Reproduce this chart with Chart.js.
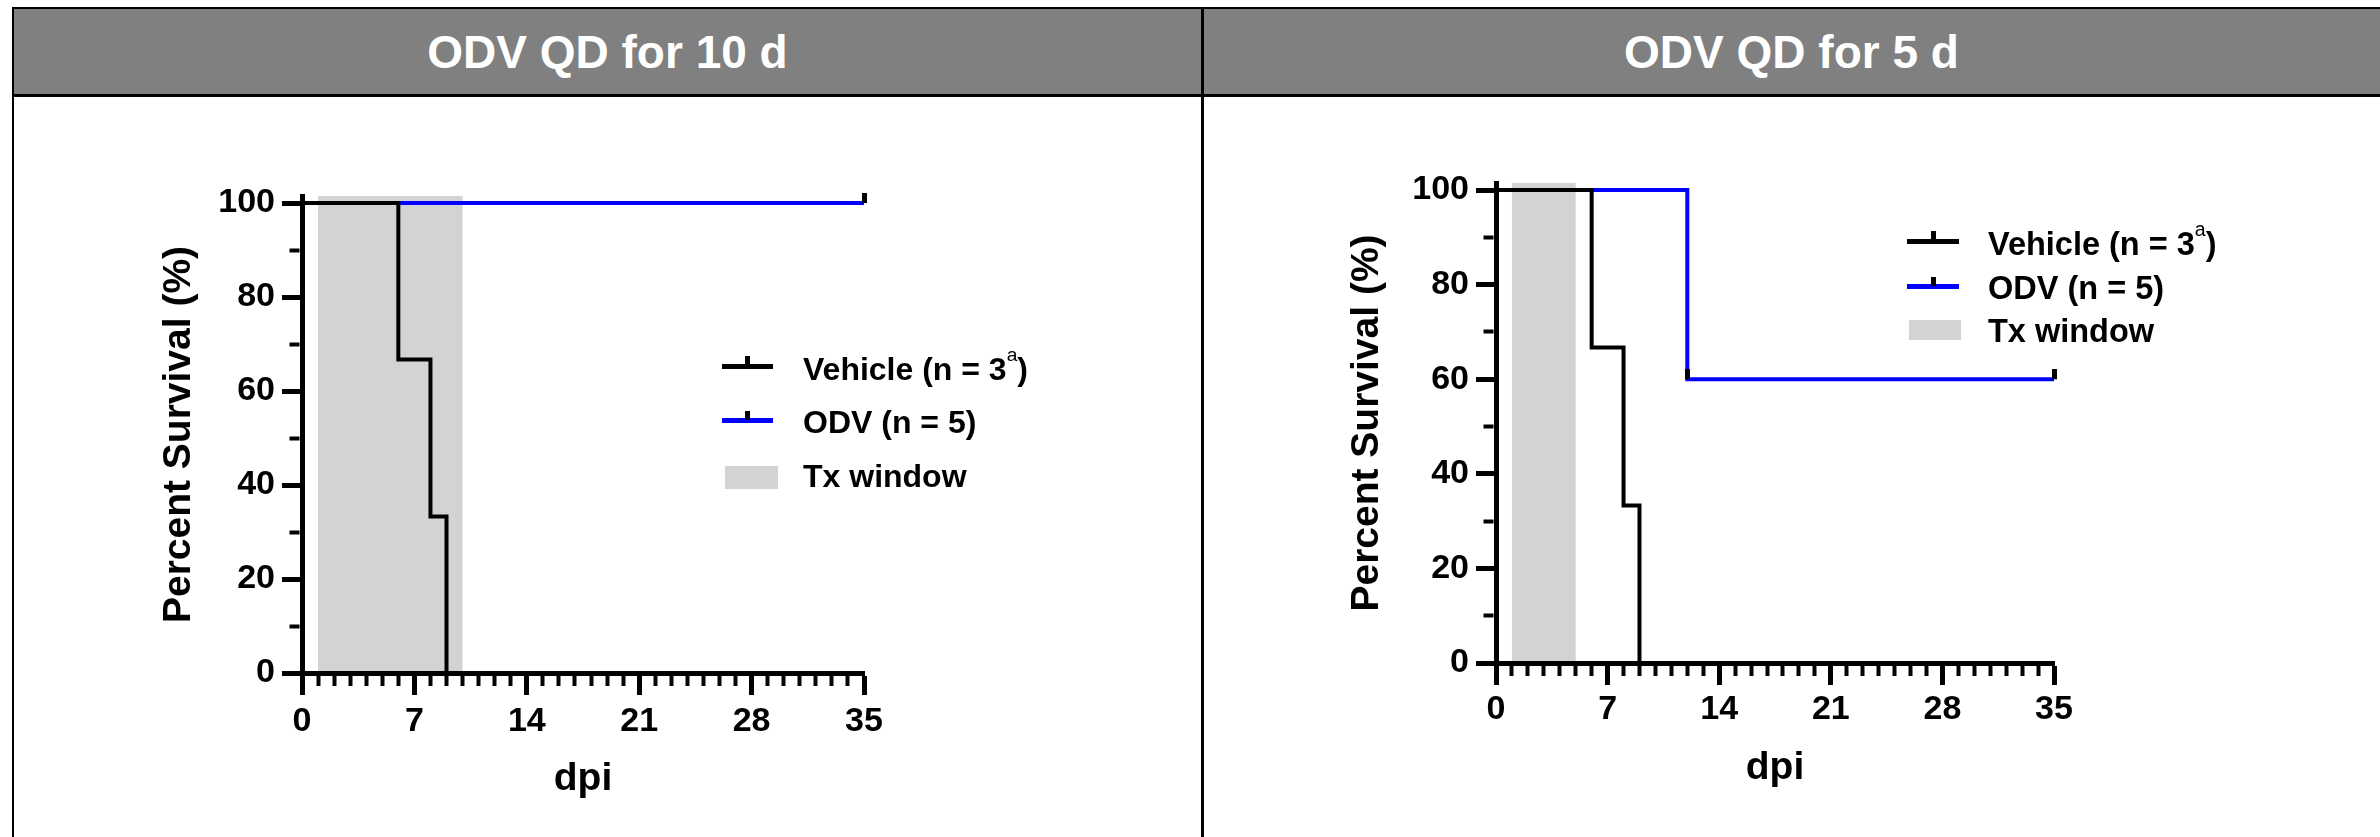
<!DOCTYPE html>
<html>
<head>
<meta charset="utf-8">
<script src="https://cdn.jsdelivr.net/npm/chart.js@4.4.1/dist/chart.umd.min.js"></script>
<style>
  body { margin: 0; width: 2380px; height: 837px; background: #fff; position: relative; overflow: hidden;
         font-family: "Liberation Sans", Arial, sans-serif; font-weight: bold; }
  canvas { position: absolute; }
  .frame { position: absolute; background: #000; z-index: 5; }
  .head { position: absolute; top: 9px; height: 85px; background: #808080; color: #fff; font-size: 46px;
          display: flex; align-items: center; justify-content: center; z-index: 4; }
  .lg { position: absolute; z-index: 6; }
  .lg-text { position: absolute; line-height: 1; white-space: nowrap; color: #000; z-index: 6; }
  .lg-text sup { font-size: 0.6em; font-weight: normal; vertical-align: baseline; position: relative; top: -0.98em; }
</style>
</head>
<body>

<canvas id="chart10" width="1200" height="737" style="left:0;top:100px"></canvas>
<canvas id="chart5" width="1176" height="737" style="left:1204px;top:100px"></canvas>

<!-- panel frame -->
<div class="head" style="left:14px;width:1187px">ODV QD for 10 d</div>
<div class="head" style="left:1203px;width:1177px">ODV QD for 5 d</div>
<div class="frame" style="left:12px;top:7px;width:2368px;height:2px"></div>
<div class="frame" style="left:12px;top:94px;width:2368px;height:3px"></div>
<div class="frame" style="left:12px;top:7px;width:2px;height:830px"></div>
<div class="frame" style="left:1201px;top:7px;width:2.5px;height:830px"></div>

<!-- legend, left panel -->
<div class="lg" style="left:722px;top:364px;width:51px;height:5px;background:#000"></div>
<div class="lg" style="left:745px;top:356px;width:5px;height:10px;background:#000"></div>
<div class="lg" style="left:722px;top:418px;width:51px;height:5px;background:#0000ff"></div>
<div class="lg" style="left:745px;top:411px;width:5px;height:9px;background:#000"></div>
<div class="lg" style="left:725px;top:466px;width:53px;height:23px;background:#d3d3d3"></div>
<div class="lg-text" style="left:803px;top:353px;font-size:32px">Vehicle (n = 3<sup>a</sup>)</div>
<div class="lg-text" style="left:803px;top:406px;font-size:32px">ODV (n = 5)</div>
<div class="lg-text" style="left:803px;top:460px;font-size:32px">Tx window</div>

<!-- legend, right panel -->
<div class="lg" style="left:1907px;top:239px;width:52px;height:5px;background:#000"></div>
<div class="lg" style="left:1931px;top:231px;width:5px;height:10px;background:#000"></div>
<div class="lg" style="left:1907px;top:284px;width:52px;height:5px;background:#0000ff"></div>
<div class="lg" style="left:1931px;top:277px;width:5px;height:9px;background:#000"></div>
<div class="lg" style="left:1909px;top:320px;width:52px;height:20px;background:#d3d3d3"></div>
<div class="lg-text" style="left:1988px;top:228px;font-size:32.5px">Vehicle (n = 3<sup>a</sup>)</div>
<div class="lg-text" style="left:1988px;top:272px;font-size:32.5px">ODV (n = 5)</div>
<div class="lg-text" style="left:1988px;top:315px;font-size:32.5px">Tx window</div>

<script>
// Kaplan-Meier steps (day post infection, % survival)
const vehicleDays10 = [0, 6, 8, 9];
const vehicleSurv10 = [100, 66.7, 33.3, 0];
const odvDays10 = [0, 35];
const odvSurv10 = [100, 100];
const censorDays10 = [35];
const censorSurv10 = [100];
const txWindow10 = [1, 10];

const vehicleDays5 = [0, 6, 8, 9];
const vehicleSurv5 = [100, 66.7, 33.3, 0];
const odvDays5 = [0, 12, 35];
const odvSurv5 = [100, 60, 60];
const censorDays5 = [12, 35];
const censorSurv5 = [60, 60];
const txWindow5 = [1, 5];

const xTickLabels = [0, 7, 14, 21, 28, 35];
const yTickLabels = [0, 20, 40, 60, 80, 100];

Chart.defaults.font.family = '"Liberation Sans", Arial, sans-serif';
Chart.defaults.color = '#000';

const pts = (days, surv) => days.map((d, i) => ({ x: d, y: surv[i] }));

// censor mark: short vertical tick sitting on top of the curve
const censorMark = document.createElement('canvas');
censorMark.width = 5;
censorMark.height = 20;
const cm = censorMark.getContext('2d');
cm.fillStyle = '#000';
cm.fillRect(0, 0, 5, 10);

// treatment window shading
const txBand = {
    id: 'txBand',
    beforeDatasetsDraw(chart, args, opts) {
        const { ctx, chartArea, scales } = chart;
        const x0 = scales.x.getPixelForValue(opts.range[0]);
        const x1 = scales.x.getPixelForValue(opts.range[1]);
        ctx.save();
        ctx.fillStyle = '#d3d3d3';
        ctx.fillRect(x0, chartArea.top, x1 - x0, chartArea.bottom - chartArea.top);
        ctx.restore();
    }
};

function survivalChart(id, s) {
    return new Chart(document.getElementById(id), {
        type: 'line',
        data: {
            datasets: [
                {
                    label: 'censored',
                    data: pts(s.censorDays, s.censorSurv),
                    showLine: false,
                    pointStyle: censorMark,
                    pointRadius: 5,
                    clip: false,
                },
                {
                    label: 'Vehicle',
                    data: pts(s.vehicleDays, s.vehicleSurv),
                    borderColor: '#000',
                    borderWidth: 4,
                    stepped: 'before',
                    pointRadius: 0,
                },
                {
                    label: 'ODV',
                    data: pts(s.odvDays, s.odvSurv),
                    borderColor: '#0000ff',
                    borderWidth: 4,
                    stepped: 'before',
                    pointRadius: 0,
                },
            ],
        },
        options: {
            responsive: false,
            animation: false,
            events: [],
            layout: { padding: s.padding },
            plugins: {
                legend: { display: false },
                tooltip: { enabled: false },
                txBand: { range: s.tx },
            },
            scales: {
                x: {
                    type: 'linear',
                    min: 0,
                    max: 35,
                    border: { color: '#000', width: 5, z: 1 },
                    grid: {
                        drawOnChartArea: false,
                        tickLength: 22,
                        tickColor: '#000',
                        tickWidth: (c) => (c.tick && !xTickLabels.includes(c.tick.value)) ? 4 : 5,
                        tickBorderDash: (c) => (c.tick && !xTickLabels.includes(c.tick.value)) ? [10, 100] : [],
                    },
                    ticks: {
                        stepSize: 1,
                        maxTicksLimit: 200,
                        autoSkip: false,
                        maxRotation: 0,
                        padding: s.xPad,
                        font: { size: 34, weight: 'bold' },
                        callback: (v) => xTickLabels.includes(v) ? String(v) : '',
                    },
                    title: { display: true, text: 'dpi', padding: 0, font: { size: 39, weight: 'bold' } },
                    afterFit: (scale) => { scale.height = s.xH; },
                },
                y: {
                    type: 'linear',
                    min: 0,
                    max: 101.5,
                    border: { color: '#000', width: 5, z: 1 },
                    grid: {
                        drawOnChartArea: false,
                        tickLength: 20,
                        tickColor: '#000',
                        tickWidth: (c) => (c.tick && !yTickLabels.includes(c.tick.value)) ? 4 : 5,
                        tickBorderDash: (c) => (c.tick && !yTickLabels.includes(c.tick.value)) ? [0, 7.5, 10, 100] : [],
                    },
                    ticks: {
                        stepSize: 10,
                        maxTicksLimit: 200,
                        includeBounds: false,
                        autoSkip: false,
                        padding: 7,
                        font: { size: 34, weight: 'bold' },
                        callback: (v) => yTickLabels.includes(v) ? String(v) : '',
                    },
                    title: { display: true, text: 'Percent Survival (%)', padding: 0, font: { size: 39, weight: 'bold' } },
                    afterFit: (scale) => { scale.width = s.yW; },
                },
            },
        },
        plugins: [txBand],
    });
}

survivalChart('chart10', {
    vehicleDays: vehicleDays10, vehicleSurv: vehicleSurv10,
    odvDays: odvDays10, odvSurv: odvSurv10,
    censorDays: censorDays10, censorSurv: censorSurv10,
    tx: txWindow10,
    padding: { left: 156, top: 96, right: 336, bottom: 34.6 },
    yW: 146, xH: 129.4, xPad: 6,
});

survivalChart('chart5', {
    vehicleDays: vehicleDays5, vehicleSurv: vehicleSurv5,
    odvDays: odvDays5, odvSurv: odvSurv5,
    censorDays: censorDays5, censorSurv: censorSurv5,
    tx: txWindow5,
    padding: { left: 140, top: 83, right: 326, bottom: 45.6 },
    yW: 152, xH: 128.4, xPad: 4,
});
</script>
</body>
</html>
